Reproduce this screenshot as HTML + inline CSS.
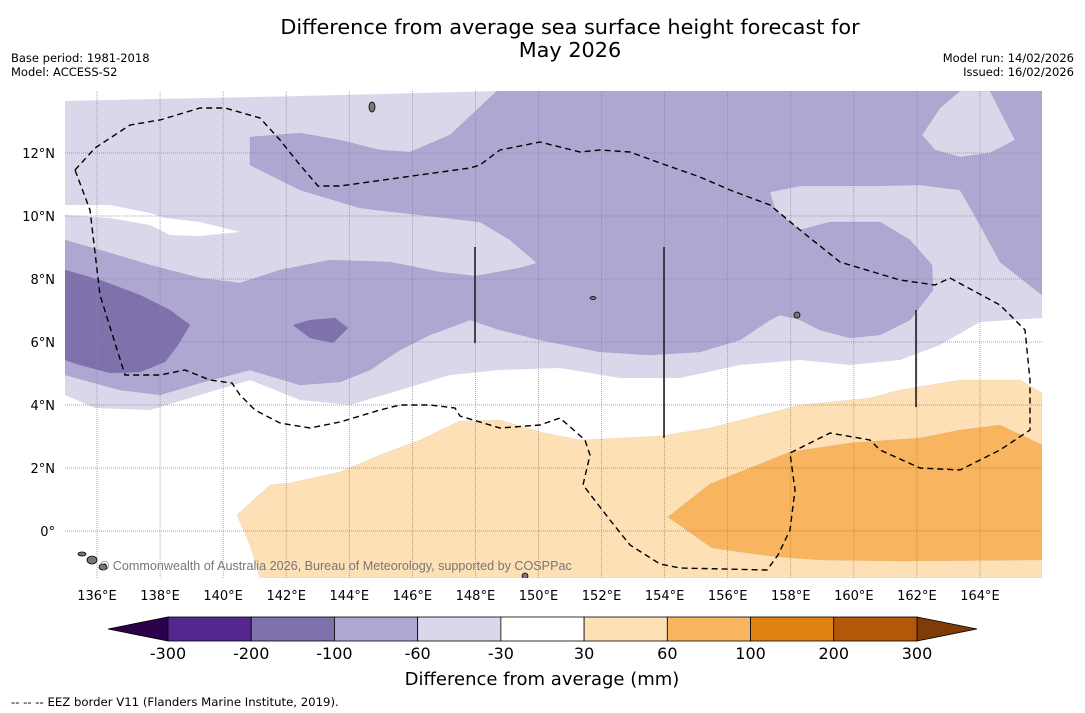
<!DOCTYPE html>
<html><head><meta charset="utf-8"><style>
body{margin:0;background:#fff;width:1085px;height:713px;overflow:hidden;font-family:"Liberation Sans","DejaVu Sans",sans-serif}
svg{display:block}
</style></head><body>
<svg id="chart" width="1085" height="713" font-family="DejaVu Sans, Liberation Sans, sans-serif">
<text x="570" y="34" text-anchor="middle" font-size="20.8">Difference from average sea surface height forecast for</text>
<text x="570" y="57" text-anchor="middle" font-size="20.8">May 2026</text>
<text x="11" y="62" font-size="11.5">Base period: 1981-2018</text>
<text x="11" y="76" font-size="11.5">Model: ACCESS-S2</text>
<text x="1074" y="62" font-size="11.5" text-anchor="end">Model run: 14/02/2026</text>
<text x="1074" y="76" font-size="11.5" text-anchor="end">Issued: 16/02/2026</text>
<g id="map"></g>
<g id="cbar"></g>
<text x="542" y="685" text-anchor="middle" font-size="18">Difference from average (mm)</text>
<text x="11" y="706" font-size="11.7">--  --  -- EEZ border V11 (Flanders Marine Institute, 2019).</text>
</svg>
<script>
const lonTicks=[136,138,140,142,144,146,148,150,152,154,156,158,160,162,164];
const latTicks=[0,2,4,6,8,10,12];
const cbBounds=[-300,-200,-100,-60,-30,30,60,100,200,300];
const cbColors=['#54278f','#7f72ac','#aea7d1','#d8d8ea','#ffffff','#fde0b6','#f9b45f','#e08214','#b35806'];
const NS='http://www.w3.org/2000/svg';
const X0=65,X1=1042,Y0=91,Y1=578;
const xLon=l=>97+(l-136)*63.07/2;
const yLat=l=>531-l*31.5;
function mk(t,a,p){const e=document.createElementNS(NS,t);for(const k in a)e.setAttribute(k,a[k]);p.appendChild(e);return e;}
const map=document.getElementById('map');
const clip=mk('clipPath',{id:'mc'},map);mk('rect',{x:X0,y:Y0,width:X1-X0,height:Y1-Y0},clip);
const g=mk('g',{'clip-path':'url(#mc)'},map);
const bg=mk('rect',{x:X0,y:Y0,width:X1-X0,height:Y1-Y0,fill:'#d8d8ea'},g);


const regions=[
['top-white-strip','#ffffff','65,91 1042,91 1042,91 500,91 300,96 65,101'],
['white-band','#ffffff','65,395 95,408 150,410 200,395 250,380 300,400 350,405 400,390 450,375 500,370 560,368 620,378 680,378 740,365 800,360 850,365 900,360 940,345 980,322 1042,318 1042,578 65,578'],
['white-patch-nw','#ffffff','65,205 110,205 150,213 165,218 200,222 240,232 200,236 170,235 150,225 110,218 65,215'],
['mid-purple-main','#aea7d1','65,240 100,250 150,265 200,278 240,283 280,270 330,260 390,262 440,272 475,276 520,268 537,263 510,240 480,222 420,215 360,208 300,190 250,165 250,137 300,133 340,140 380,150 410,152 450,135 497,91 1042,91 1042,295 1000,262 980,225 960,190 920,185 870,186 800,186 770,192 775,210 800,230 830,222 880,222 910,240 932,265 933,290 910,320 880,335 850,338 820,330 800,320 780,315 770,320 740,340 700,352 650,355 600,352 540,340 500,330 470,320 430,335 400,350 370,370 340,382 300,385 250,370 200,383 160,395 120,390 65,375'],
['lavender-island-ne','#d8d8ea','922,135 940,108 960,91 990,91 1015,140 990,153 960,157 935,150'],
['dark-purple-west','#7f72ac','65,270 100,280 140,295 170,310 190,325 178,345 165,362 140,372 110,373 80,365 65,360'],
['dark-purple-patch','#7f72ac','293,325 310,320 335,318 348,328 333,343 310,338'],
['light-orange','#fde0b6','237,515 270,485 290,483 340,472 380,455 420,440 460,421 500,420 540,432 580,440 620,438 660,436 710,428 800,405 870,398 900,390 960,380 1020,380 1042,393 1042,578 260,578 250,545'],
['mid-orange','#f9b45f','668,517 710,484 790,452 850,443 920,438 960,430 1000,425 1042,445 1042,560 900,561 820,560 770,556 712,548']
];
regions.forEach(r=>{const e=mk('polygon',{points:r[2],fill:r[1],stroke:r[1]=='#ffffff'?'none':'rgba(0,0,0,0.08)','stroke-width':0.6},g);

});
lonTicks.forEach(l=>{const e=mk('line',{x1:xLon(l),x2:xLon(l),y1:Y0,y2:Y1,stroke:'#888','stroke-width':0.7,'stroke-dasharray':'1,1'},g);


const t=mk('text',{x:xLon(l),y:600,'text-anchor':'middle','font-size':13},map);t.textContent=l+'°E';

});
latTicks.forEach(l=>{const e=mk('line',{x1:X0,x2:X1,y1:yLat(l),y2:yLat(l),stroke:'#888','stroke-width':0.7,'stroke-dasharray':'1,1'},g);


const t=mk('text',{x:55,y:yLat(l)+5,'text-anchor':'end','font-size':13},map);t.textContent=l==0?'0°':l+'°N';

});
const eez=mk('polyline',{points:'75,170 95,148 130,125 160,120 200,108 225,108 260,118 280,140 300,165 318,186 340,186 470,168 480,165 500,150 540,142 580,152 600,150 630,152 660,163 700,177 730,190 770,205 800,230 840,262 900,280 935,285 950,278 1000,305 1025,330 1030,380 1030,430 1000,450 960,470 920,468 880,450 870,440 830,433 790,453 795,490 790,530 778,555 767,570 680,568 660,564 630,545 610,520 583,485 590,455 585,440 560,418 540,425 500,428 460,416 455,408 430,405 400,405 380,410 340,422 310,428 280,423 255,410 240,395 232,383 210,380 185,370 160,375 125,375 100,295 90,210 75,170',fill:'none',stroke:'#000','stroke-width':1.4,'stroke-dasharray':'6,4'},g);


[[475,247,343],[664,247,438],[916,310,407]].forEach(v=>{const e=mk('line',{x1:v[0],x2:v[0],y1:v[1],y2:v[2],stroke:'#222','stroke-width':1.6},g);

});
[[372,107,3,5],[82,554,4,2],[92,560,5,4],[103,567,4,3],[525,576,3,3],[797,315,3,3],[593,298,3,1.5]].forEach(p=>{const e=mk('ellipse',{cx:p[0],cy:p[1],rx:p[2],ry:p[3],fill:'#777',stroke:'#000','stroke-width':0.8},g);

});
const wm=mk('text',{x:100,y:570,'font-size':12.6,fill:'#777','font-family':'Liberation Sans, sans-serif'},g);wm.textContent='© Commonwealth of Australia 2026, Bureau of Meteorology, supported by COSPPac';


const cb=document.getElementById('cbar');
const cx0=168,cx1=917,cy0=617,cy1=641;
const cbx=i=>cx0+i*(cx1-cx0)/(cbBounds.length-1);
const lt=mk('polygon',{points:`108,629 ${cx0},${cy0} ${cx0},${cy1}`,fill:'#2d004b',stroke:'#000','stroke-width':0.8},cb);


const rt=mk('polygon',{points:`977,629 ${cx1},${cy0} ${cx1},${cy1}`,fill:'#7f3b08',stroke:'#000','stroke-width':0.8},cb);


cbColors.forEach((c,i)=>{const e=mk('rect',{x:cbx(i),y:cy0,width:cbx(i+1)-cbx(i),height:cy1-cy0,fill:c,stroke:'#000','stroke-width':0.8},cb);

});
cbBounds.forEach((b,i)=>{const t=mk('text',{x:cbx(i),y:659,'text-anchor':'middle','font-size':16},cb);t.textContent=b;

});
</script>
</body></html>
